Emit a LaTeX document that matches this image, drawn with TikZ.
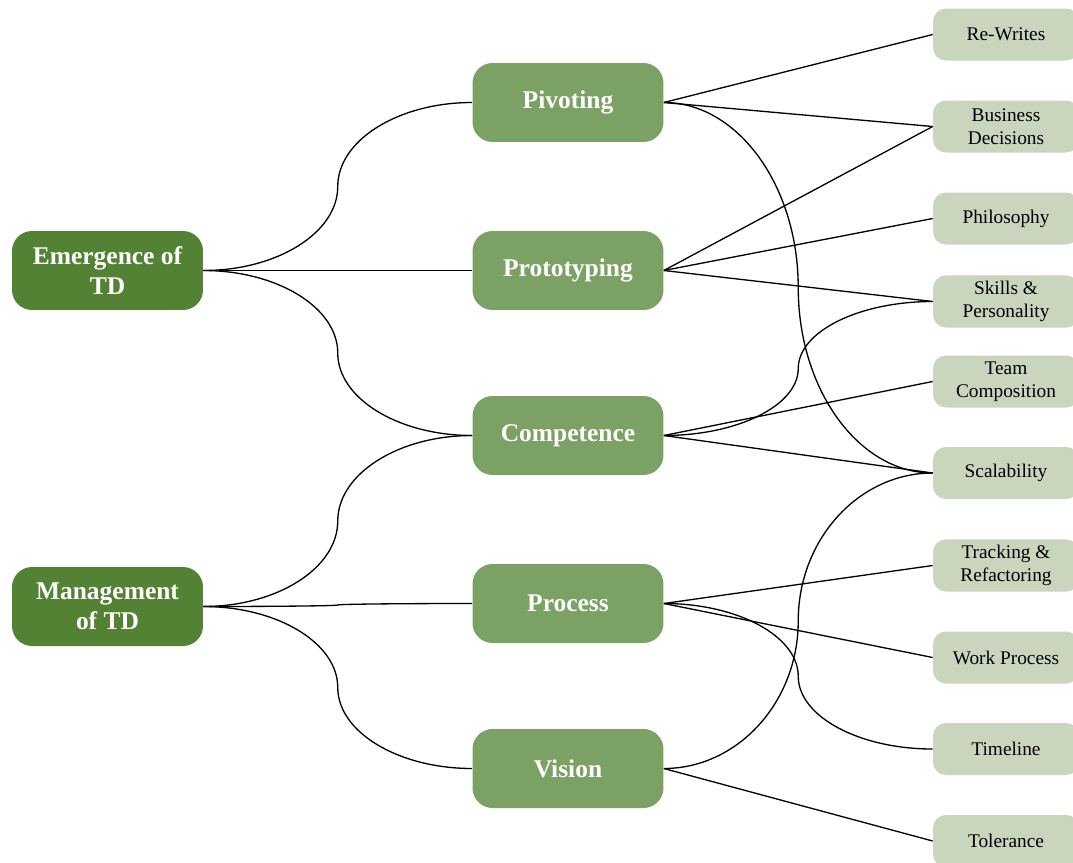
\documentclass[tikz,border=0pt]{standalone}
\usepackage{fontspec}
\setmainfont{Liberation Serif}
\usetikzlibrary{positioning,calc}
\definecolor{rootgreen}{HTML}{548235}
\definecolor{themegreen}{HTML}{7BA264}
\definecolor{leafgreen}{HTML}{C9D5BD}

\begin{document}
\begin{tikzpicture}[
        x=0.02cm, y=-0.02cm,
        root/.style={fill=rootgreen, rounded corners=0.4cm, minimum width=3.82cm, minimum height=1.58cm, align=center, text=white, font=\fontsize{14.5}{17}\selectfont\bfseries},
        theme/.style={root, fill=themegreen},
        leaf/.style={fill=leafgreen, rounded corners=0.26cm, minimum width=2.92cm, minimum height=1.04cm, align=center, font=\fontsize{11}{13}\selectfont},
        link/.style={draw, line width=0.75pt},
        scurve/.style={to path={let \p1=(\tikztostart), \p2=(\tikztotarget), \p3=($(\p1)!.5!(\p2)$) in
            .. controls ($(\p1)!.55!(\x3,\y1)$) and ($(\p3)!.55!(\x3,\y1)$) .. (\p3)
            .. controls ($(\p3)!.55!(\x3,\y2)$) and ($(\p2)!.55!(\x3,\y2)$) .. (\tikztotarget)}}
    ]
        \useasboundingbox[fill=white] (0,0) rectangle (1073,863);

        % Roots
        \node[root] (emerg) at (107.5,270.5) {Emergence of\\TD};
        \node[root] (manage) at (107.5,606.5) {Management\\of TD};

        % Themes
        \node[theme] (pivot) at (568,102.5) {Pivoting};
        \node[theme] (proto) at (568,270.5) {Prototyping};
        \node[theme] (compet) at (568,435.5) {Competence};
        \node[theme] (process) at (568,603.5) {Process};
        \node[theme] (vision) at (568,768.5) {Vision};

        % Leaves
        \node[leaf] (rewrites) at (1006,34.5) {Re-Writes};
        \node[leaf] (business) at (1006,126.5) {Business\\Decisions};
        \node[leaf] (philo) at (1006,218.5) {Philosophy};
        \node[leaf] (skills) at (1006,301.5) {Skills \&\\Personality};
        \node[leaf] (team) at (1006,381.5) {Team\\Composition};
        \node[leaf] (scal) at (1006,473) {Scalability};
        \node[leaf] (tracking) at (1006,565.5) {Tracking \&\\Refactoring};
        \node[leaf] (work) at (1006,657.5) {Work Process};
        \node[leaf] (timeline) at (1006,749) {Timeline};
        \node[leaf] (toler) at (1006,841) {Tolerance};

        % Roots to themes
        \draw[link] (emerg.east) to[scurve] (pivot.west);
        \draw[link] (emerg.east) -- (proto.west);
        \draw[link] (emerg.east) to[scurve] (compet.west);
        \draw[link] (manage.east) to[scurve] (compet.west);
        \draw[link] (manage.east) to[scurve] (process.west);
        \draw[link] (manage.east) to[scurve] (vision.west);

        % Themes to leaves
        \draw[link] (pivot.east) -- (rewrites.west);
        \draw[link] (pivot.east) -- (business.west);
        \draw[link] (pivot.east) to[scurve] (scal.west);
        \draw[link] (proto.east) -- (business.west);
        \draw[link] (proto.east) -- (philo.west);
        \draw[link] (proto.east) -- (skills.west);
        \draw[link] (compet.east) to[scurve] (skills.west);
        \draw[link] (compet.east) -- (team.west);
        \draw[link] (compet.east) -- (scal.west);
        \draw[link] (process.east) -- (tracking.west);
        \draw[link] (process.east) -- (work.west);
        \draw[link] (process.east) to[scurve] (timeline.west);
        \draw[link] (vision.east) to[scurve] (scal.west);
        \draw[link] (vision.east) -- (toler.west);
    \end{tikzpicture}
\end{document}
